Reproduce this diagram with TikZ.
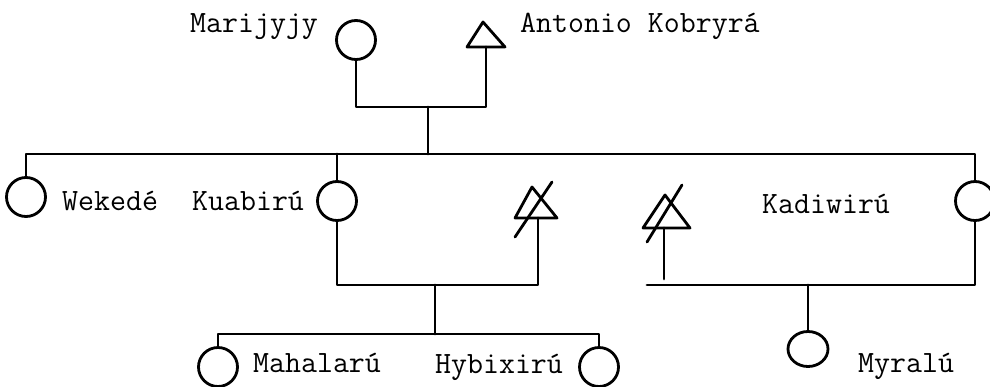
\documentclass[tikz,border=0pt]{standalone}
\usepackage{fontspec}
\usetikzlibrary{shapes.geometric}
\begin{document}
\begin{tikzpicture}[x=1pt,y=-1pt,
  ln/.style={line width=2.8pt, line cap=round, line join=round},
  fem/.style={draw, circle, minimum size=39pt, inner sep=0pt, line width=2.8pt},
  lbl/.style={font=\ttfamily\fontsize{31}{34}\selectfont, anchor=base west, inner sep=0pt}]
\useasboundingbox (0,0) rectangle (990,386);
\fill[white] (0,0) rectangle (990,386);

% females
\node[fem] (mar) at (356,40) {};
\node[fem] (wek) at (26,197) {};
\node[fem] (kua) at (337,201) {};
\node[fem] (kad) at (975,201) {};
\node[fem] (mah) at (218,367) {};
\node[fem] (hyb) at (599,367) {};
\node[fem, ellipse, minimum width=40pt, minimum height=35pt] (myr) at (808,349) {};

% males (triangle base centres)
\coordinate (ant) at (486,47);
\coordinate (d1) at (538,218);
\coordinate (d2) at (664,228);
\draw[ln] (ant) ++(-19,0) -- ++(16,-25) -- ++(22,25) -- cycle;
\draw[ln] (d1) ++(-23,0) -- ++(17,-31) -- ++(25,31) -- cycle;
\draw[ln] (d1) ++(-23,19) -- ++(37,-55);
\draw[ln] (d2) ++(-21,0) -- ++(22,-33) -- ++(25,33) -- cycle;
\draw[ln] (d2) ++(-17,14) -- ++(35,-57);

% labels
\node[lbl] (tmar) at (190,32) {Marijyjy};
\node[lbl] (tant) at (520,32) {Antonio Kobryrá};
\node[lbl] (twek) at (62,210) {Wekedé};
\node[lbl] (tkua) at (192,210) {Kuabirú};
\node[lbl] (tkad) at (762,213) {Kadiwirú};
\node[lbl] (tmah) at (253,372) {Mahalarú};
\node[lbl] (thyb) at (435,373) {Hybixirú};
\node[lbl] (tmyr) at (858,372) {Myralú};

% parents
\coordinate (pm) at (428,107);
\coordinate (sib) at (428,154);
\draw[ln] (mar.south) -- (mar.south |- pm) -- (ant |- pm) -- (ant);
\draw[ln] (pm) -- (sib);

% siblings
\draw[ln] (wek.north) -- (wek.north |- sib) -- (kad.north |- sib) -- (kad.north);
\draw[ln] (kua.north) -- (kua.north |- sib);

% left marriage
\coordinate (m1) at (435,285);
\coordinate (s1) at (435,334);
\draw[ln] (kua.south) -- (kua.south |- m1) -- (d1 |- m1) -- (d1);
\draw[ln] (m1) -- (s1);
\draw[ln] (mah.north) -- (mah.north |- s1) -- (hyb.north |- s1) -- (hyb.north);

% right marriage
\coordinate (m2) at (808,285);
\coordinate (m2l) at (647,285);
\coordinate (d2e) at (664,279);
\draw[ln] (m2l) -- (kad.south |- m2) -- (kad.south);
\draw[ln] (d2) -- (d2e);
\draw[ln] (m2) -- (myr.north);
\end{tikzpicture}
\end{document}
